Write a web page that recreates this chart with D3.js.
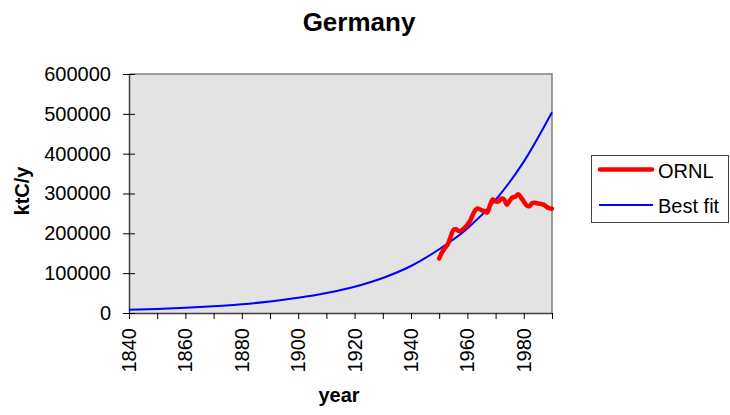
<!DOCTYPE html>
<html><head><meta charset="utf-8">
<script src="https://cdn.jsdelivr.net/npm/d3@7"></script>
<style>body{margin:0;background:#fff}svg{display:block}text{font-family:"Liberation Sans",Arial,sans-serif}</style>
</head><body><svg id="c" width="730" height="415"></svg>
<script>
const ornlYears = d3.range(1950, 1991);
const ornlValues = [137000,152000,163000,172000,190000,208000,210000,206000,208000,214000,
 222000,232000,248000,260000,262000,258000,256000,252000,270000,285000,
 280000,280000,287000,285000,272000,282000,290000,292000,298000,290000,
 280000,270000,268000,276000,277000,275000,274000,272000,267000,263000,262000];
const fitYears = [1840,1850,1860,1870,1880,1890,1900,1910,1920,1930,1940,1950,1960,1970,1980,1990];
const fitValues = [8000,10000,13000,17000,22000,29000,38000,50000,66000,88000,118000,160000,212000,284000,380000,504000];
const yTicks = [0,100000,200000,300000,400000,500000,600000];
const xTicks = [1840,1860,1880,1900,1920,1940,1960,1980];
const xMinor = d3.range(1840, 1991, 10);

const svg = d3.select("#c");
const L=129,R=552,T=74,B=313;
const x = d3.scaleLinear().domain([1840,1990]).range([L,R]);
const y = d3.scaleLinear().domain([0,600000]).range([B,T]);

svg.append("rect").attr("x",L).attr("y",T).attr("width",R-L).attr("height",B-T).attr("fill","#e3e3e3");
svg.append("path").attr("d",`M${L},${T}H${R}V${B}`).attr("fill","none").attr("stroke","#808080").attr("stroke-width",1.5);

// x axis
const gx = svg.append("g").attr("transform",`translate(0,${B})`);
gx.call(d3.axisBottom(x).tickValues(xMinor).tickFormat("").tickSize(6).tickSizeOuter(0));
gx.select(".domain").attr("stroke","#404040").attr("stroke-width",1.5);
gx.selectAll(".tick line").attr("stroke","#000");
const gxl = svg.append("g");
xTicks.forEach(t=>{
  gxl.append("text").attr("transform",`translate(${x(t)+7},${B+15}) rotate(-90)`)
   .attr("text-anchor","end").attr("font-size",20).text(t);
});

// y axis
const gy = svg.append("g").attr("transform",`translate(${L},0)`);
gy.call(d3.axisLeft(y).tickValues(yTicks).tickSize(6).tickSizeOuter(0).tickFormat(d3.format("d")));
gy.select(".domain").attr("stroke","#404040").attr("stroke-width",1.5);
gy.selectAll(".tick line").attr("stroke","#000").attr("x2",-6).attr("x1",6);
gy.selectAll(".tick text").attr("font-size",20).attr("x",-18).attr("fill","#000");

// fit line
const fitData = fitYears.map((d,i)=>[d,fitValues[i]]);
svg.append("path").datum(fitData).attr("fill","none").attr("stroke","#0000ff").attr("stroke-width",2)
  .attr("d",d3.line().x(d=>x(d[0])).y(d=>y(d[1])).curve(d3.curveMonotoneX));
// ORNL line
const ornlData = ornlYears.map((d,i)=>[d,ornlValues[i]]);
svg.append("path").datum(ornlData).attr("fill","none").attr("stroke","#ff0000").attr("stroke-width",4.5)
  .attr("stroke-linejoin","round").attr("stroke-linecap","round")
  .attr("d",d3.line().x(d=>x(d[0])).y(d=>y(d[1])).curve(d3.curveCatmullRom));

// titles
svg.append("text").attr("x",359).attr("y",31).attr("text-anchor","middle").attr("font-size",26).attr("font-weight","bold").text("Germany");
svg.append("text").attr("x",339).attr("y",402).attr("text-anchor","middle").attr("font-size",20).attr("font-weight","bold").text("year");
svg.append("text").attr("transform","translate(29,191) rotate(-90)").attr("text-anchor","middle").attr("font-size",20).attr("font-weight","bold").text("ktC/y");

// legend
const lg = svg.append("g");
lg.append("rect").attr("x",591.5).attr("y",155.5).attr("width",137).attr("height",67).attr("fill","#fff").attr("stroke","#404040").attr("stroke-width",1);
lg.append("line").attr("x1",600).attr("x2",652).attr("y1",169.5).attr("y2",169.5).attr("stroke","#ff0000").attr("stroke-width",4.5).attr("stroke-linecap","round");
lg.append("text").attr("x",658).attr("y",177.5).attr("font-size",20).text("ORNL");
lg.append("line").attr("x1",599).attr("x2",653).attr("y1",205).attr("y2",205).attr("stroke","#0000ff").attr("stroke-width",2);
lg.append("text").attr("x",658).attr("y",213).attr("font-size",20).text("Best fit");
</script></body></html>
